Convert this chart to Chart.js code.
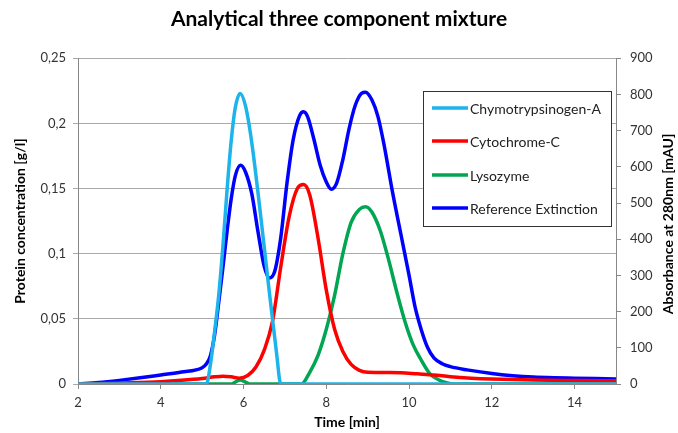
<!DOCTYPE html>
<html>
<head>
<meta charset="utf-8">
<script src="https://cdn.jsdelivr.net/npm/chart.js@4"></script>
<style>
  body { margin: 0; background: #fff; }
</style>
</head>
<body>
<canvas id="myChart" width="678" height="433"></canvas>
<script>
    // Chymotrypsinogen-A  [g/l]
    var timeChymo = [2, 5.1, 5.2, 5.3, 5.4, 5.5, 5.6, 5.7, 5.8, 5.92, 6.05, 6.2, 6.4, 6.6, 6.8, 6.9, 15]
    var chymo = [0, 0, 0.015, 0.04, 0.068, 0.105, 0.148, 0.186, 0.212, 0.223, 0.213, 0.185, 0.133, 0.077, 0.023, 0, 0]

    // Cytochrome-C  [g/l]
    var timeCyto = [2, 3, 4, 4.5, 5, 5.3, 5.5, 5.7, 5.9, 6.1, 6.3, 6.5, 6.7, 6.9, 7.1, 7.3, 7.45, 7.6, 7.8, 8, 8.2, 8.4, 8.6, 8.8, 9, 9.5, 9.8, 10.2, 10.6, 11, 11.5, 12, 13, 14, 15]
    var cyto = [0, 0.0008, 0.0018, 0.0028, 0.0042, 0.0055, 0.006, 0.0055, 0.0045, 0.0065, 0.013, 0.026, 0.048, 0.09, 0.128, 0.15, 0.153, 0.145, 0.112, 0.072, 0.042, 0.025, 0.015, 0.0105, 0.009, 0.0088, 0.0087, 0.0078, 0.0069, 0.0056, 0.0045, 0.0038, 0.003, 0.0027, 0.0025]

    // Lysozyme  [g/l]
    var timeLyso = [2, 5.7, 5.8, 5.92, 6.05, 6.15, 7.4, 7.6, 7.8, 8, 8.2, 8.4, 8.6, 8.8, 8.95, 9.1, 9.3, 9.5, 9.7, 9.9, 10.1, 10.3, 10.5, 10.7, 10.9, 11.1, 15]
    var lyso = [0, 0, 0.0015, 0.003, 0.0015, 0, 0, 0.009, 0.022, 0.042, 0.068, 0.1, 0.124, 0.134, 0.136, 0.132, 0.118, 0.096, 0.071, 0.048, 0.03, 0.018, 0.008, 0.0035, 0.001, 0, 0]

    // Reference Extinction  [mAU]
    var timeRef = [2, 2.5, 3, 3.5, 4, 4.5, 5, 5.1, 5.2, 5.3, 5.4, 5.5, 5.6, 5.7, 5.8, 5.93, 6.05, 6.2, 6.35, 6.5, 6.62, 6.75, 6.9, 7.05, 7.2, 7.35, 7.45, 7.55, 7.7, 7.85, 8, 8.12, 8.25, 8.4, 8.55, 8.7, 8.85, 8.95, 9.1, 9.25, 9.4, 9.6, 9.8, 10, 10.15, 10.3, 10.45, 10.6, 10.8, 11, 11.4, 12, 12.5, 13, 13.5, 14, 14.5, 15]
    var refExt = [0, 4, 10, 17, 25, 33, 45, 55, 78, 135, 225, 320, 420, 510, 575, 604, 585, 525, 420, 325, 293, 310, 405, 555, 675, 740, 752, 738, 676, 605, 558, 538, 555, 620, 705, 770, 803, 806, 785, 738, 658, 530, 415, 300, 210, 148, 100, 72, 56, 48, 39, 29, 23, 19, 17, 16, 15, 14]

    var xTicks = [2, 4, 6, 8, 10, 12, 14]

    function pairs(xs, ys) {
        return xs.map(function(x, i) { return { x: x, y: ys[i] } })
    }

    var fontFamily = "Lato, 'Liberation Sans', sans-serif"

    // legend in a framed box inside the plot, plus the right axis title
    var extras = {
        id: 'extras',
        afterDraw: function(chart) {
            var ctx = chart.ctx
            ctx.save()
            ctx.fillStyle = '#fff'
            ctx.fillRect(423, 91, 188, 135)
            ctx.strokeStyle = '#333'
            ctx.lineWidth = 1
            ctx.strokeRect(423.5, 91.5, 188, 135)
            ctx.font = "14px " + fontFamily
            ctx.textBaseline = 'middle'
            var rows = [108, 141, 175, 208]
            chart.data.datasets.forEach(function(ds, i) {
                ctx.strokeStyle = ds.borderColor
                ctx.lineWidth = 3.5
                ctx.beginPath()
                ctx.moveTo(432, rows[i])
                ctx.lineTo(468, rows[i])
                ctx.stroke()
                ctx.fillStyle = '#222'
                ctx.fillText(ds.label, 470, rows[i] + 1)
            })

            ctx.translate(668, 224)
            ctx.rotate(-Math.PI / 2)
            ctx.font = "bold 14px " + fontFamily
            ctx.fillStyle = '#000'
            ctx.textAlign = 'center'
            ctx.fillText('Absorbance at 280nm [mAU]', 0, 0)
            ctx.restore()
        }
    }

    var ctx = document.getElementById('myChart').getContext('2d');
    var myChart = new Chart(ctx, {
        type: 'line',
        data: {
            datasets: [{
                label: 'Chymotrypsinogen-A',
                data: pairs(timeChymo, chymo),
                borderColor: '#1cb4ea',
                yAxisID: 'y'
            }, {
                label: 'Cytochrome-C',
                data: pairs(timeCyto, cyto),
                borderColor: '#ff0000',
                yAxisID: 'y'
            }, {
                label: 'Lysozyme',
                data: pairs(timeLyso, lyso),
                borderColor: '#00a651',
                yAxisID: 'y'
            }, {
                label: 'Reference Extinction',
                data: pairs(timeRef, refExt),
                borderColor: '#0000ff',
                yAxisID: 'y1'
            }]
        },
        options: {
            responsive: false,
            animation: false,
            devicePixelRatio: 1,
            layout: { padding: 0 },
            elements: {
                point: { radius: 0 },
                line: { borderWidth: 3.5, cubicInterpolationMode: 'monotone', fill: false }
            },
            plugins: {
                legend: { display: false },
                tooltip: { enabled: false },
                title: {
                    display: true,
                    text: 'Analytical three component mixture',
                    color: '#000',
                    font: { family: fontFamily, size: 21, weight: 'bold' },
                    padding: { top: 7, bottom: 26 }
                }
            },
            scales: {
                x: {
                    type: 'linear',
                    min: 2,
                    max: 15,
                    afterFit: function(scale) { scale.height = 49 },
                    afterBuildTicks: function(scale) {
                        scale.ticks = xTicks.map(function(v) { return { value: v } })
                    },
                    ticks: {
                        color: '#333',
                        padding: 6,
                        font: { family: fontFamily, size: 13 }
                    },
                    grid: { drawOnChartArea: false, tickLength: 5, color: '#888' },
                    border: { color: '#888' },
                    title: {
                        display: true,
                        text: 'Time [min]',
                        color: '#000',
                        font: { family: fontFamily, size: 14, weight: 'bold' },
                        padding: { top: 0, bottom: 2 }
                    }
                },
                y: {
                    position: 'left',
                    min: 0,
                    max: 0.25,
                    afterFit: function(scale) { scale.width = 78 },
                    ticks: {
                        stepSize: 0.05,
                        color: '#333',
                        padding: 7,
                        font: { family: fontFamily, size: 13 },
                        callback: function(v) {
                            return String(Math.round(v * 100) / 100).replace('.', ',')
                        }
                    },
                    grid: { color: '#aaa', tickLength: 5 },
                    border: { color: '#888' },
                    title: {
                        display: true,
                        text: 'Protein concentration [g/l]',
                        color: '#000',
                        font: { family: fontFamily, size: 14, weight: 'bold' },
                        padding: { top: 12, bottom: 0 }
                    }
                },
                y1: {
                    position: 'right',
                    min: 0,
                    max: 900,
                    afterFit: function(scale) { scale.width = 62 },
                    ticks: {
                        stepSize: 100,
                        color: '#333',
                        padding: 9,
                        font: { family: fontFamily, size: 13 }
                    },
                    grid: { drawOnChartArea: false, tickLength: 5, color: '#888' },
                    border: { color: '#888' }
                }
            }
        },
        plugins: [extras]
    });
</script>
</body>
</html>
